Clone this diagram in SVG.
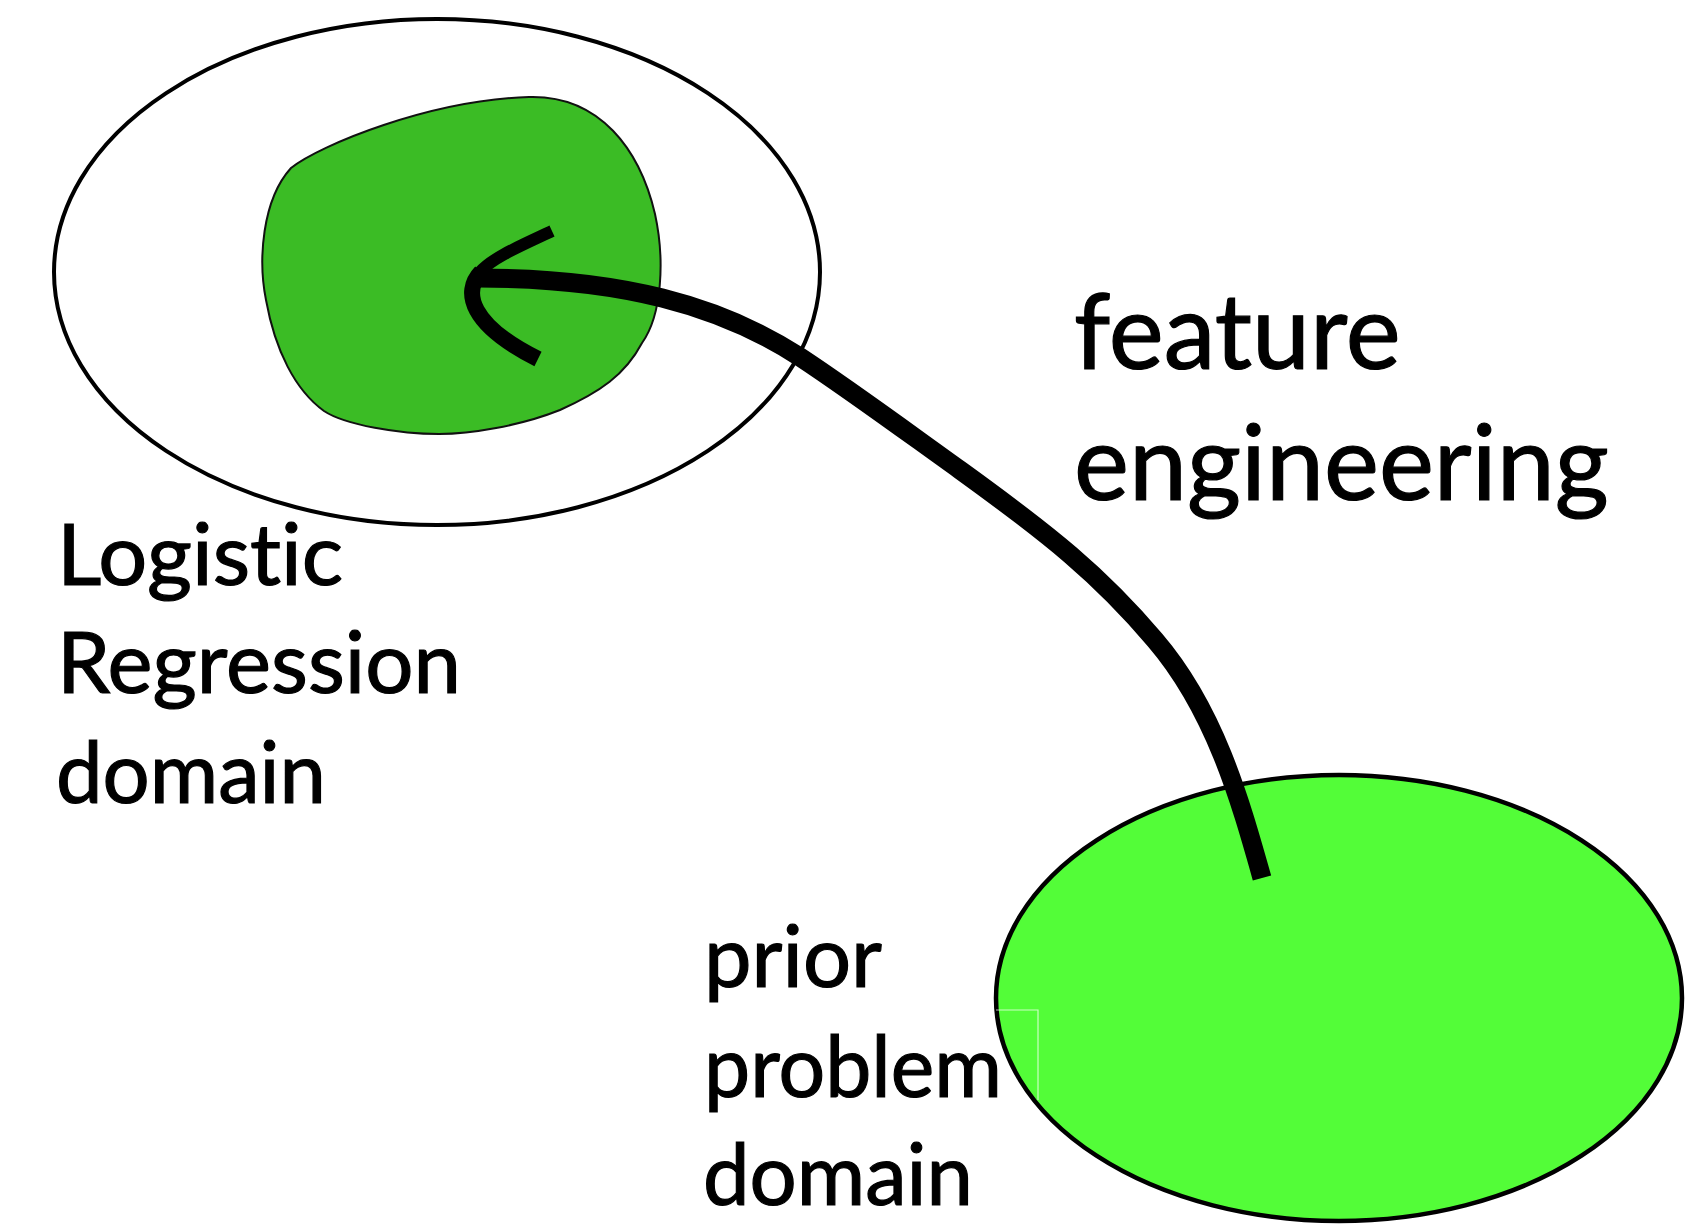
<svg xmlns="http://www.w3.org/2000/svg" width="1707" height="1224" viewBox="0 0 1707 1224">
  <style>
    .label { font-family: Lato, "Open Sans", "DejaVu Sans", sans-serif; fill: #000; stroke: #000; stroke-width: 1.2; font-variant-ligatures: none; }
    .big { font-size: 104px; }
    .mid { font-size: 86px; }
    .ring { fill: #fff; stroke: #000; stroke-width: 4; }
    .stroke { fill: none; stroke: #000; stroke-linecap: butt; stroke-linejoin: round; }
  </style>

  <rect x="0" y="0" width="1707" height="1224" fill="#fff"/>

  <!-- Logistic regression domain: outer ring with the inner green region -->
  <g id="lr-domain">
    <ellipse class="ring" cx="437" cy="272" rx="383" ry="253"/>
    <path d="M 291,168 C 320,145 430,100 529,97 C 600,95 640,150 655,214 C 665,260 662,315 642,343 C 625,375 600,392 560,410 C 520,426 470,434 439,434 C 400,434 345,425 324,411 C 295,390 275,350 266,300 C 258,260 262,200 291,168 Z" fill="#3bbc25" stroke="#111" stroke-width="2"/>
    <text class="label mid" x="57" y="585" textLength="286" lengthAdjust="spacingAndGlyphs">Logistic</text>
    <text class="label mid" x="57" y="693" textLength="404" lengthAdjust="spacingAndGlyphs">Regression</text>
    <text class="label mid" x="56" y="803" textLength="270" lengthAdjust="spacingAndGlyphs">domain</text>
  </g>

  <!-- Prior problem domain -->
  <g id="prior-domain">
    <ellipse cx="1339" cy="998" rx="343" ry="223" fill="#53fd38" stroke="#000" stroke-width="4.5"/>
    <path d="M 996,1010 H 1038 V 1100" fill="none" stroke="#fff" stroke-width="1.2" opacity="0.7"/>
    <text class="label mid" x="704" y="987" textLength="178" lengthAdjust="spacingAndGlyphs">prior</text>
    <text class="label mid" x="704" y="1097" textLength="298" lengthAdjust="spacingAndGlyphs">problem</text>
    <text class="label mid" x="703" y="1205" textLength="270" lengthAdjust="spacingAndGlyphs">domain</text>
  </g>

  <!-- Feature engineering label -->
  <g id="feature-engineering">
    <text class="label big" x="1074" y="369">feature</text>
    <text class="label big" x="1074" y="500">engineering</text>
  </g>

  <!-- Connector: curved arrow from the prior domain into the logistic regression domain -->
  <g id="connectors">
    <path class="stroke" stroke-width="19" d="M 1262,878 C 1240,800 1215,710 1155,640 C 1100,575 1050,535 960,470 C 900,427 850,390 800,357 C 720,305 620,278 478,278"/>
    <path class="stroke" stroke-width="12" d="M 552,231 C 520,246 492,258 480,272"/>
    <path class="stroke" stroke-width="16" d="M 481,272 C 462,292 470,325 538,359"/>
  </g>
</svg>
